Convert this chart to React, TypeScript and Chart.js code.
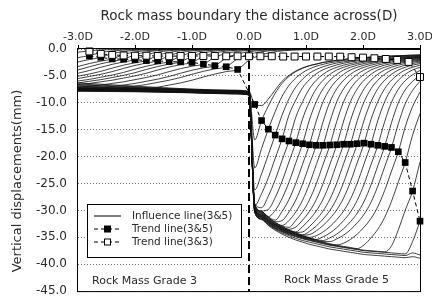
import React, { useEffect, useRef } from 'react';
import { Chart, registerables } from 'chart.js';

Chart.register(...registerables);

// ---------- axis / labels ----------
const X_TITLE = 'Rock mass boundary the distance across(D)';
const Y_TITLE = 'Vertical displacements(mm)';
const X_MIN = -3;
const X_MAX = 3;
const Y_MIN = -45;
const Y_MAX = 0;
const LEGEND_LABELS = ['Influence line(3&5)', 'Trend line(3&5)', 'Trend line(3&3)'];
const REGION_LABELS = ['Rock Mass Grade 3', 'Rock Mass Grade 5'];
const BOUNDARY_X = 0;

// ---------- trend line (3&5) : filled squares ----------
const TREND35_X = [-2.8, -2.6, -2.4, -2.2, -2.0, -1.8, -1.6, -1.4, -1.2, -1.0, -0.8, -0.6, -0.4, -0.2,
  0.10, 0.22, 0.34, 0.46, 0.58, 0.70, 0.82, 0.94, 1.06, 1.18, 1.30, 1.42, 1.54, 1.66, 1.78, 1.90, 2.02, 2.14, 2.26, 2.38, 2.50, 2.62, 2.74, 2.87, 3.00];
const TREND35_Y = [-1.3, -1.55, -1.85, -1.9, -2.0, -2.15, -2.2, -2.35, -2.4, -2.5, -2.8, -3.1, -3.3, -3.8,
  -10.3, -13.3, -14.9, -16.0, -16.7, -17.1, -17.4, -17.6, -17.8, -17.9, -17.9, -17.85, -17.8, -17.7, -17.7, -17.6, -17.5, -17.7, -17.9, -18.1, -18.3, -19.1, -21.1, -26.4, -32.0];

// ---------- trend line (3&3) : open squares ----------
const TREND33_X = [-2.8, -2.6, -2.4, -2.2, -2.0, -1.8, -1.6, -1.4, -1.2, -1.0, -0.8, -0.6, -0.4, -0.2, 0.0,
  0.2, 0.4, 0.6, 0.8, 1.0, 1.2, 1.4, 1.6, 1.8, 2.0, 2.2, 2.4, 2.6, 2.8, 3.0];
const TREND33_Y = [-0.45, -0.9, -1.1, -1.2, -1.25, -1.25, -1.3, -1.35, -1.3, -1.3, -1.3, -1.3, -1.35, -1.35, -1.35,
  -1.35, -1.35, -1.4, -1.4, -1.4, -1.4, -1.4, -1.42, -1.53, -1.6, -1.72, -1.85, -2.03, -2.4, -5.2];

// ---------- influence lines, faces in grade 3 (x positions) ----------
const L_X = [-3.0, -2.8, -2.6, -2.4, -2.2, -2.0, -1.8, -1.6, -1.4, -1.2, -1.0, -0.8, -0.6, -0.4, -0.2, 0.0, 0.2, 0.5, 1.0, 2.0, 3.0];
const L_A = [-0.6, -0.33, -0.18, -0.1, -0.05, -0.03, -0.01, 0, 0, 0, 0, 0, 0, 0, 0, 0, 0, 0, 0, 0, 0];
const L_0 = [-1.6, -1.2, -0.66, -0.36, -0.19, -0.11, -0.06, -0.04, -0.02, 0, 0, 0, 0, 0, 0, 0, 0, 0, 0, 0, 0];
const L_1 = [-2.4, -1.95, -1.55, -0.85, -0.47, -0.25, -0.14, -0.08, -0.05, -0.03, 0, 0, 0, 0, 0, 0, 0, 0, 0, 0, 0];
const L_2 = [-3.25, -2.7, -2.25, -1.85, -1.02, -0.56, -0.3, -0.17, -0.09, -0.06, -0.04, 0, 0, 0, 0, 0, 0, 0, 0, 0, 0];
const L_3 = [-3.9, -3.3, -2.75, -2.3, -1.9, -1.05, -0.57, -0.3, -0.17, -0.1, -0.06, -0.04, 0, 0, 0, 0, 0, 0, 0, 0, 0];
const L_4 = [-4.5, -4.0, -3.4, -2.85, -2.4, -2.0, -1.1, -0.6, -0.32, -0.18, -0.1, -0.06, -0.04, 0, 0, 0, 0, 0, 0, 0, 0];
const L_5 = [-5.05, -4.65, -4.15, -3.55, -3.0, -2.55, -2.15, -1.18, -0.65, -0.34, -0.19, -0.11, -0.06, -0.04, 0, 0, 0, 0, 0, 0, 0];
const L_6 = [-5.5, -5.1, -4.7, -4.2, -3.6, -3.05, -2.6, -2.2, -1.21, -0.66, -0.35, -0.2, -0.11, -0.06, -0.04, 0, 0, 0, 0, 0, 0];
const L_7 = [-5.95, -5.65, -5.25, -4.85, -4.35, -3.75, -3.2, -2.75, -2.35, -1.29, -0.7, -0.38, -0.21, -0.12, -0.07, -0.04, 0, 0, 0, 0, 0];
const L_8 = [-6.3, -6.0, -5.7, -5.3, -4.9, -4.4, -3.8, -3.25, -2.8, -2.4, -1.32, -0.72, -0.38, -0.22, -0.12, -0.07, -0.04, 0, 0, 0, 0];
const L_9 = [-6.6, -6.4, -6.1, -5.8, -5.4, -5.0, -4.5, -3.9, -3.35, -2.9, -2.5, -1.38, -0.75, -0.4, -0.23, -0.13, -0.08, -0.04, 0, 0, 0];
const L_10 = [-7.1, -6.9, -6.7, -6.4, -6.1, -5.7, -5.3, -4.8, -4.2, -3.65, -3.2, -2.8, -1.54, -0.84, -0.45, -0.25, -0.14, -0.07, -0.02, 0, 0];
const L_11 = [-7.35, -7.37, -7.2, -7.0, -6.7, -6.4, -6.0, -5.6, -5.1, -4.5, -3.95, -3.5, -3.1, -1.7, -0.93, -0.5, -0.28, -0.13, -0.05, 0, 0];
const L_12 = [-7.35, -7.37, -7.4, -7.4, -7.2, -6.9, -6.6, -6.2, -5.8, -5.3, -4.7, -4.15, -3.7, -3.3, -1.8, -1.0, -0.53, -0.23, -0.07, 0, 0];
const L_13 = [-7.4, -7.42, -7.45, -7.47, -7.5, -7.5, -7.4, -7.1, -6.7, -6.3, -5.8, -5.2, -4.65, -4.2, -3.8, -2.1, -1.15, -0.45, -0.13, 0, 0];
const L_ROWS = [L_A, L_0, L_1, L_2, L_3, L_4, L_5, L_6, L_7, L_8, L_9, L_10, L_11, L_12, L_13];

// ---------- influence lines, faces in grade 5 ----------
// left-hand (grade 3) part of each curve, one value per curve
const RL_X = [-3.0, -2.0, -1.0, -0.3, 0.0];
const RL_M3 = [-6.3, -6.5, -6.7, -6.85, -7.0, -7.1, -7.2, -7.25, -7.3, -7.35, -7.4, -7.42, -7.45, -7.48, -7.5, -7.52, -7.55, -7.57, -7.6, -7.62, -7.65, -7.67, -7.7, -7.72, -7.75, -7.8, -7.85];
const RL_M2 = [-6.9, -7.05, -7.15, -7.25, -7.3, -7.35, -7.4, -7.42, -7.45, -7.48, -7.5, -7.52, -7.55, -7.57, -7.6, -7.62, -7.65, -7.67, -7.7, -7.72, -7.75, -7.77, -7.8, -7.82, -7.85, -7.9, -7.95];
const RL_M1 = [-7.45, -7.5, -7.55, -7.58, -7.6, -7.62, -7.65, -7.67, -7.7, -7.72, -7.75, -7.77, -7.8, -7.82, -7.85, -7.87, -7.9, -7.92, -7.95, -7.97, -8.0, -8.02, -8.05, -8.07, -8.1, -8.12, -8.15];
const RL_M03 = [-7.65, -7.7, -7.75, -7.78, -7.8, -7.82, -7.85, -7.87, -7.9, -7.92, -7.95, -7.97, -8.0, -8.02, -8.05, -8.07, -8.1, -8.12, -8.15, -8.17, -8.2, -8.22, -8.25, -8.27, -8.3, -8.32, -8.35];
const RL_0 = [-7.85, -7.9, -7.95, -7.98, -8.0, -8.02, -8.05, -8.07, -8.1, -8.12, -8.15, -8.17, -8.2, -8.22, -8.25, -8.27, -8.3, -8.32, -8.35, -8.37, -8.4, -8.42, -8.45, -8.47, -8.5, -8.52, -8.55];

// right-hand (grade 5) part
const R_X = [0.10, 0.22, 0.34, 0.46, 0.58, 0.70, 0.82, 0.94, 1.06, 1.18, 1.30, 1.42, 1.54, 1.66, 1.78, 1.90, 2.02, 2.14, 2.26, 2.38, 2.50, 2.62, 2.74, 2.87, 3.00];
const R_0 = [-10.3, -10.5, -9.3, -7.6, -6.0, -4.9, -4.1, -3.5, -3.1, -2.8, -2.5, -2.3, -2.1, -1.95, -1.8, -1.7, -1.6, -1.5, -1.4, -1.35, -1.3, -1.25, -1.2, -1.15, -1.1];
const R_1 = [-16.9, -13.3, -10.6, -8.2, -6.4, -5.1, -4.2, -3.6, -3.1, -2.8, -2.5, -2.3, -2.1, -1.95, -1.8, -1.7, -1.6, -1.5, -1.4, -1.35, -1.3, -1.25, -1.2, -1.15, -1.1];
const R_2 = [-22.1, -18.5, -14.9, -11.6, -8.8, -6.8, -5.4, -4.4, -3.7, -3.2, -2.85, -2.55, -2.35, -2.15, -2.0, -1.85, -1.75, -1.65, -1.55, -1.45, -1.4, -1.35, -1.3, -1.25, -1.2];
const R_3 = [-26.2, -23.2, -19.6, -16.0, -12.3, -9.3, -7.1, -5.6, -4.5, -3.8, -3.3, -2.9, -2.6, -2.4, -2.2, -2.05, -1.9, -1.8, -1.7, -1.6, -1.5, -1.45, -1.4, -1.35, -1.3];
const R_4 = [-29.1, -26.9, -23.9, -20.3, -16.7, -12.3, -9.5, -7.2, -5.7, -4.6, -3.85, -3.35, -2.95, -2.65, -2.4, -2.2, -2.05, -1.95, -1.85, -1.75, -1.65, -1.55, -1.5, -1.45, -1.4];
const R_5 = [-28.7, -29.5, -27.3, -24.3, -20.7, -17.1, -12.7, -9.8, -7.4, -5.8, -4.7, -3.9, -3.4, -3.0, -2.7, -2.45, -2.25, -2.1, -1.95, -1.85, -1.75, -1.65, -1.55, -1.5, -1.45];
const R_6 = [-28.8, -30.1, -29.8, -27.6, -24.6, -21.0, -17.4, -13.0, -9.8, -7.4, -5.8, -4.7, -3.9, -3.4, -3.0, -2.7, -2.45, -2.25, -2.1, -1.95, -1.85, -1.75, -1.65, -1.55, -1.5];
const R_7 = [-28.85, -30.15, -31.15, -30.0, -27.8, -24.8, -21.2, -17.6, -13.2, -9.8, -7.4, -5.8, -4.7, -3.9, -3.4, -3.0, -2.7, -2.45, -2.25, -2.1, -1.95, -1.85, -1.75, -1.65, -1.55];
const R_8 = [-28.9, -30.2, -31.2, -31.8, -30.2, -28.0, -25.0, -21.4, -17.8, -13.4, -9.8, -7.4, -5.8, -4.7, -3.9, -3.4, -3.0, -2.7, -2.45, -2.25, -2.1, -1.95, -1.85, -1.75, -1.65];
const R_9 = [-29.0, -30.3, -31.3, -32.1, -31.9, -30.3, -28.1, -25.1, -21.5, -17.9, -13.5, -9.8, -7.4, -5.8, -4.7, -3.9, -3.4, -3.0, -2.7, -2.45, -2.25, -2.1, -1.95, -1.85, -1.75];
const R_10 = [-29.1, -30.4, -31.4, -32.2, -32.8, -31.9, -30.3, -28.1, -25.1, -21.5, -17.9, -13.5, -9.8, -7.4, -5.8, -4.7, -3.9, -3.4, -3.0, -2.7, -2.45, -2.25, -2.1, -1.95, -1.85];
const R_11 = [-29.2, -30.5, -31.5, -32.3, -32.9, -33.15, -31.85, -30.25, -28.05, -25.05, -21.45, -17.85, -13.45, -9.8, -7.4, -5.8, -4.7, -3.9, -3.4, -3.0, -2.7, -2.45, -2.25, -2.1, -1.95];
const R_12 = [-29.3, -30.6, -31.6, -32.4, -33.0, -33.5, -33.1, -31.8, -30.2, -28.0, -25.0, -21.4, -17.8, -13.4, -9.8, -7.4, -5.8, -4.7, -3.9, -3.4, -3.0, -2.7, -2.45, -2.25, -2.1];
const R_13 = [-29.4, -30.7, -31.7, -32.5, -33.1, -33.6, -34.0, -33.0, -31.7, -30.1, -27.9, -24.9, -21.3, -17.7, -13.3, -9.8, -7.4, -5.8, -4.7, -3.9, -3.4, -3.0, -2.7, -2.45, -2.25];
const R_14 = [-29.5, -30.8, -31.8, -32.6, -33.2, -33.7, -34.1, -34.0, -33.0, -31.7, -30.1, -27.9, -24.9, -21.3, -17.7, -13.3, -9.8, -7.4, -5.8, -4.7, -3.9, -3.4, -3.0, -2.7, -2.45];
const R_15 = [-29.55, -30.85, -31.85, -32.65, -33.25, -33.75, -34.15, -34.55, -33.9, -32.9, -31.6, -30.0, -27.8, -24.8, -21.2, -17.6, -13.2, -9.8, -7.4, -5.8, -4.7, -3.9, -3.4, -3.0, -2.7];
const R_16 = [-29.6, -30.9, -31.9, -32.7, -33.3, -33.8, -34.2, -34.6, -34.5, -33.8, -32.8, -31.5, -29.9, -27.7, -24.7, -21.1, -17.5, -13.1, -9.8, -7.4, -5.8, -4.7, -3.9, -3.4, -3.0];
const R_17 = [-29.7, -31.0, -32.0, -32.8, -33.4, -33.9, -34.3, -34.7, -35.0, -34.7, -34.0, -33.0, -31.7, -30.1, -27.9, -24.9, -21.3, -17.7, -13.3, -9.8, -7.4, -5.8, -4.7, -3.9, -3.4];
const R_18 = [-29.8, -31.1, -32.1, -32.9, -33.5, -34.0, -34.4, -34.8, -35.1, -35.4, -34.9, -34.2, -33.2, -31.9, -30.3, -28.1, -25.1, -21.5, -17.9, -13.5, -9.9, -7.5, -5.9, -4.8, -4.0];
const R_19 = [-29.85, -31.15, -32.15, -32.95, -33.55, -34.05, -34.45, -34.85, -35.15, -35.45, -35.6, -35.1, -34.4, -33.4, -32.1, -30.5, -28.3, -25.3, -21.7, -18.1, -13.7, -10.0, -7.6, -6.0, -4.9];
const R_20 = [-29.9, -31.2, -32.2, -33.0, -33.6, -34.1, -34.5, -34.9, -35.2, -35.5, -35.8, -35.8, -35.3, -34.6, -33.6, -32.3, -30.7, -28.5, -25.5, -21.9, -18.3, -13.9, -10.2, -7.7, -6.0];
const R_21 = [-30.0, -31.3, -32.3, -33.1, -33.7, -34.2, -34.6, -35.0, -35.3, -35.6, -35.9, -36.2, -36.4, -36.1, -35.4, -34.4, -33.1, -31.5, -29.3, -26.3, -22.7, -19.1, -14.5, -10.7, -8.0];
const R_22 = [-30.1, -31.4, -32.4, -33.2, -33.8, -34.3, -34.7, -35.1, -35.4, -35.7, -36.0, -36.3, -36.5, -36.7, -36.9, -37.1, -36.4, -35.1, -33.5, -31.3, -28.3, -24.7, -21.1, -16.0, -12.0];
const R_23 = [-30.2, -31.5, -32.5, -33.3, -33.9, -34.4, -34.8, -35.2, -35.5, -35.8, -36.1, -36.4, -36.6, -36.8, -37.0, -37.2, -37.4, -37.5, -37.6, -37.7, -36.6, -33.6, -30.0, -26.4, -21.0];
const R_24 = [-30.3, -31.6, -32.6, -33.4, -34.0, -34.5, -34.9, -35.3, -35.6, -35.9, -36.2, -36.5, -36.7, -36.9, -37.1, -37.3, -37.5, -37.6, -37.7, -37.8, -37.9, -38.0, -38.1, -35.8, -32.0];
const R_25 = [-30.3, -31.7, -32.8, -33.7, -34.4, -35.0, -35.5, -35.9, -36.3, -36.6, -36.9, -37.2, -37.4, -37.6, -37.8, -38.0, -38.2, -38.3, -38.4, -38.5, -38.6, -38.7, -38.8, -38.6, -38.9];
const R_26 = [-30.3, -31.6, -32.7, -33.5, -34.2, -34.7, -35.2, -35.6, -35.9, -36.2, -36.5, -36.8, -37.0, -37.2, -37.4, -37.6, -37.8, -37.9, -38.0, -38.1, -38.2, -38.3, -38.4, -37.9, -38.3];
const R_ROWS = [R_0, R_1, R_2, R_3, R_4, R_5, R_6, R_7, R_8, R_9, R_10, R_11, R_12, R_13, R_14, R_15, R_16, R_17, R_18, R_19, R_20, R_21, R_22, R_23, R_24, R_25, R_26];

const FONT = 'DejaVu Sans';
const TEXT = '#2a2a2a';

function buildDatasets() {
  const ds: any[] = [];
  ds.push({
    label: 'open', order: 0, data: TREND33_X.map((x, k) => ({ x, y: TREND33_Y[k] })),
    showLine: true, borderColor: '#000', borderWidth: 1, borderDash: [4, 3], tension: 0,
    pointStyle: 'rect', pointRadius: 4.9, pointBackgroundColor: '#fff', pointBorderColor: '#000', pointBorderWidth: 1,
    clip: false,
  });
  ds.push({
    label: 'filled', order: 1, data: TREND35_X.map((x, k) => ({ x, y: TREND35_Y[k] })),
    showLine: true, borderColor: '#000', borderWidth: 1, borderDash: [4, 3], tension: 0,
    pointStyle: 'rect', pointRadius: 4.7, pointBackgroundColor: '#000', pointBorderColor: '#000', pointBorderWidth: 0,
    clip: false,
  });
  ds.push({
    label: 'boundary', order: 2, data: [{ x: BOUNDARY_X, y: Y_MAX }, { x: BOUNDARY_X, y: Y_MIN }],
    showLine: true, borderColor: '#000', borderWidth: 2, borderDash: [8, 4], pointRadius: 0, tension: 0,
  });
  const lineStyle = {
    showLine: true, borderColor: '#111', borderWidth: 0.8, pointRadius: 0,
    cubicInterpolationMode: 'monotone' as const,
  };
  L_ROWS.forEach((row, i) => {
    ds.push({ label: 'L' + i, order: 10, data: row.map((y, k) => ({ x: L_X[k], y })), ...lineStyle });
  });
  R_ROWS.forEach((row, i) => {
    const left = [RL_M3[i], RL_M2[i], RL_M1[i], RL_M03[i], RL_0[i]].map((y, k) => ({ x: RL_X[k], y }));
    const right = row.map((y, k) => ({ x: R_X[k], y }));
    ds.push({ label: 'R' + i, order: 10, data: [...left, ...right], ...lineStyle });
  });
  return ds;
}

const overlayPlugin = {
  id: 'overlay',
  afterDatasetsDraw(chart: any) {
    const { ctx, chartArea } = chart;
    const { left, top, right, bottom } = chartArea;
    ctx.save();
    // frame
    ctx.strokeStyle = '#000';
    ctx.lineWidth = 1;
    ctx.setLineDash([]);
    ctx.strokeRect(left - 0.5, top - 0.5, right - left + 1, bottom - top + 1);

    // region labels
    ctx.fillStyle = TEXT;
    ctx.font = `11px "${FONT}"`;
    ctx.textBaseline = 'middle';
    ctx.textAlign = 'left';
    ctx.fillText(REGION_LABELS[0], 92, 281);
    ctx.fillText(REGION_LABELS[1], 284, 280);

    // legend
    const bx = 87, by = 204, bw = 154, bh = 53;
    ctx.fillStyle = '#fff';
    ctx.fillRect(bx, by, bw, bh);
    ctx.strokeStyle = '#000';
    ctx.strokeRect(bx + 0.5, by + 0.5, bw, bh);
    const rows = [216, 229, 242];
    const x0 = 94, x1 = 121, xm = 107.5;
    ctx.lineWidth = 1;
    // row 1
    ctx.beginPath();
    ctx.moveTo(x0, rows[0]); ctx.lineTo(x1, rows[0]);
    ctx.stroke();
    // rows 2/3
    for (let r = 1; r < 3; r++) {
      ctx.setLineDash([4, 3]);
      ctx.beginPath();
      ctx.moveTo(x0, rows[r]); ctx.lineTo(x1, rows[r]);
      ctx.stroke();
      ctx.setLineDash([]);
      if (r === 1) {
        ctx.fillStyle = '#000';
        ctx.fillRect(xm - 3.5, rows[r] - 3.5, 7, 7);
      } else {
        ctx.fillStyle = '#fff';
        ctx.fillRect(xm - 3.5, rows[r] - 3.5, 7, 7);
        ctx.strokeRect(xm - 3, rows[r] - 3, 6, 6);
      }
    }
    ctx.fillStyle = TEXT;
    ctx.font = `10.5px "${FONT}"`;
    ctx.textAlign = 'left';
    LEGEND_LABELS.forEach((t, k) => ctx.fillText(t, 132, rows[k]));
    ctx.restore();
  },
  afterDraw(chart: any) {
    const { ctx } = chart;
    ctx.save();
    ctx.translate(18, 181);
    ctx.rotate(-Math.PI / 2);
    ctx.fillStyle = TEXT;
    ctx.font = `13px "${FONT}"`;
    ctx.textAlign = 'center';
    ctx.textBaseline = 'middle';
    ctx.fillText(Y_TITLE, 0, 0);
    ctx.restore();
  },
};

export default function App() {
  const ref = useRef<HTMLCanvasElement | null>(null);
  useEffect(() => {
    if (!ref.current) return;
    const chart = new Chart(ref.current, {
      type: 'scatter',
      data: { datasets: buildDatasets() },
      options: {
        animation: false,
        responsive: false,
        devicePixelRatio: 1,
        events: [],
        layout: { padding: { left: 0, right: 12, top: 0, bottom: 4 } },
        plugins: { legend: { display: false }, tooltip: { enabled: false }, title: { display: false } },
        scales: {
          x: {
            type: 'linear', position: 'top', min: X_MIN, max: X_MAX,
            ticks: {
              stepSize: 1, color: TEXT, padding: 1, maxRotation: 0,
              font: { family: FONT, size: 11 },
              callback: (v: any) => Number(v).toFixed(1) + 'D',
            },
            grid: { drawOnChartArea: false, drawTicks: true, tickLength: 4, color: '#000', lineWidth: 1 },
            border: { display: false },
            title: {
              display: true, text: X_TITLE, color: TEXT,
              font: { family: FONT, size: 13.5 }, padding: { top: 8, bottom: 0 },
            },
            afterFit: (s: any) => { s.height = 49; s.paddingLeft = 0; s.paddingRight = 0; },
          },
          y: {
            type: 'linear', min: Y_MIN, max: Y_MAX,
            ticks: {
              stepSize: 5, color: TEXT, padding: 11,
              font: { family: FONT, size: 12 },
              callback: (v: any) => Number(v).toFixed(1),
            },
            grid: { drawTicks: false, color: '#555', lineWidth: 0.8 },
            border: { display: false, dash: [1, 2] },
            afterFit: (s: any) => { s.width = 78; s.paddingTop = 0; s.paddingBottom = 0; },
          },
        },
      } as any,
      plugins: [overlayPlugin],
    });
    return () => chart.destroy();
  }, []);
  return (
    <div style={{ position: 'absolute', left: 0, top: 0, width: 432, height: 297, background: '#fff' }}>
      <canvas ref={ref} width={432} height={297} style={{ width: 432, height: 297, display: 'block' }} />
    </div>
  );
}
